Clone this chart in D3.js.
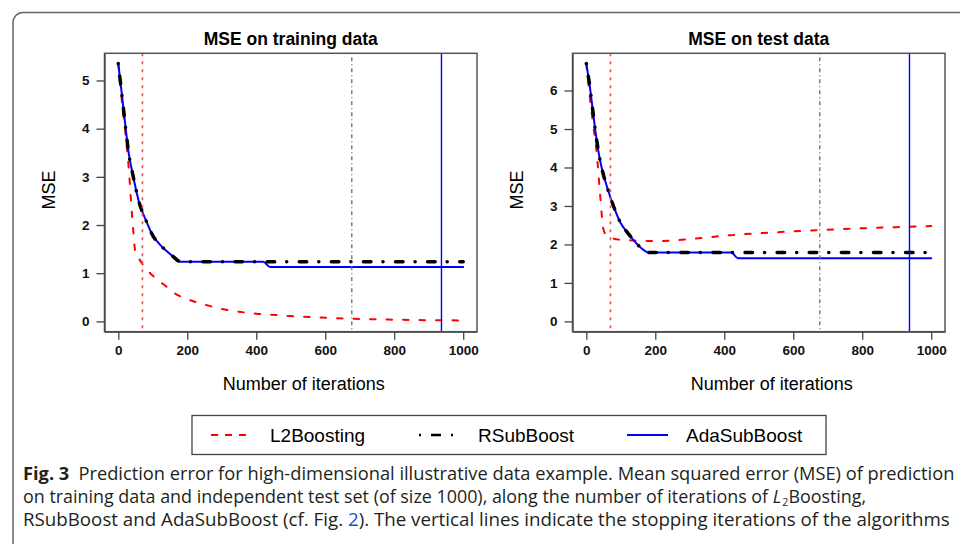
<!DOCTYPE html>
<html>
<head>
<meta charset="utf-8">
<script src="https://cdn.jsdelivr.net/npm/d3@7"></script>
<style>
  body { margin: 0; background: #fff; }
  svg text { font-family: "Liberation Sans", Arial, sans-serif; }
</style>
</head>
<body>
<div id="chart"></div>
<script>
// iteration grid shared by all curves
const iterations = [0, 10, 20, 30, 40, 50, 60, 70, 80, 100, 120, 140, 160, 180, 200,
    250, 300, 350, 400, 420, 440, 500, 600, 700, 800, 900, 1000];

// MSE on training data
const trainL2   = [5.35, 4.6, 3.95, 3.2, 2.2, 1.42, 1.3, 1.19, 1.1, 0.95, 0.83, 0.72, 0.6, 0.52, 0.46,
    0.35, 0.26, 0.2, 0.16, 0.15, 0.14, 0.11, 0.075, 0.05, 0.035, 0.025, 0.02];
const trainRSub = [5.35, 4.73, 4.1, 3.5, 3.12, 2.78, 2.48, 2.27, 2.1, 1.78, 1.6, 1.46, 1.34, 1.24, 1.24,
    1.24, 1.24, 1.24, 1.24, 1.24, 1.24, 1.24, 1.24, 1.24, 1.24, 1.24, 1.24];
const trainAda  = [5.35, 4.73, 4.1, 3.5, 3.12, 2.78, 2.48, 2.27, 2.1, 1.78, 1.6, 1.46, 1.34, 1.24, 1.24,
    1.24, 1.24, 1.24, 1.24, 1.24, 1.13, 1.13, 1.13, 1.13, 1.13, 1.13, 1.13];

// MSE on test data
const testL2   = [6.7, 5.85, 5.1, 4.4, 3.3, 2.38, 2.22, 2.18, 2.15, 2.12, 2.11, 2.1, 2.09, 2.09, 2.09,
    2.1, 2.14, 2.18, 2.23, 2.24, 2.26, 2.29, 2.34, 2.38, 2.42, 2.45, 2.48];
const testRSub = [6.7, 6.12, 5.4, 4.72, 4.18, 3.8, 3.5, 3.22, 2.97, 2.55, 2.3, 2.08, 1.9, 1.79, 1.79,
    1.79, 1.79, 1.79, 1.79, 1.79, 1.79, 1.79, 1.79, 1.79, 1.79, 1.79, 1.79];
const testAda  = [6.7, 6.12, 5.4, 4.72, 4.18, 3.8, 3.5, 3.22, 2.97, 2.55, 2.3, 2.08, 1.9, 1.79, 1.79,
    1.79, 1.79, 1.79, 1.79, 1.79, 1.64, 1.64, 1.64, 1.64, 1.64, 1.64, 1.64];

// stopping iterations (vertical lines)
const stopL2 = 70;
const stopRSub = 677;
const stopAda = 937;

const xTicks = [0, 200, 400, 600, 800, 1000];
const trainYTicks = [0, 1, 2, 3, 4, 5];
const testYTicks = [0, 1, 2, 3, 4, 5, 6];

const seriesNames = ["L2Boosting", "RSubBoost", "AdaSubBoost"];

const width = 960, height = 544;

const styles = {
    L2Boosting:  {color: "#ff0000", width: 2, dash: "5.5,11", cap: "round"},
    RSubBoost:   {color: "#000000", width: 3.5, dash: "0.1,12.5,7.5,12", cap: "round"},
    AdaSubBoost: {color: "#0000ff", width: 2, dash: null, cap: "round"}
};

const svg = d3.select("#chart").append("svg")
    .attr("width", width).attr("height", height)
    .attr("viewBox", [0, 0, width, height]);

// outer figure frame (rounded top-left corner)
svg.append("path")
    .attr("d", "M960,12.5 H23 A10,10 0 0 0 13,22.5 V544")
    .attr("fill", "none")
    .attr("stroke", "#666")
    .attr("stroke-width", 1.5);

function drawPanel(cfg) {
    const x = d3.scaleLinear().domain([-40, 1040]).range([cfg.left, cfg.right]);
    const y = d3.scaleLinear().domain(cfg.yDomain).range([331.7, 53.3]);
    const g = svg.append("g");

    const line = d3.line()
        .x((d, i) => x(iterations[i]))
        .y(d => y(d))
        .curve(d3.curveMonotoneX);

    // draw order: L2, Ada, RSub (thick black on top)
    [["L2Boosting", cfg.l2], ["AdaSubBoost", cfg.ada], ["RSubBoost", cfg.rsub]].forEach(([name, vals]) => {
        const s = styles[name];
        g.append("path")
            .datum(vals)
            .attr("d", line)
            .attr("fill", "none")
            .attr("stroke", s.color)
            .attr("stroke-width", s.width)
            .attr("stroke-linecap", s.cap)
            .attr("stroke-linejoin", "round")
            .attr("stroke-dasharray", s.dash);
    });

    // stopping iteration lines
    const vlines = [
        {it: stopL2, color: "#ff4a4a", w: 1.6, dash: "3,5"},
        {it: stopRSub, color: "#6b6b6b", w: 1.3, dash: "1,3,4,3"},
        {it: stopAda, color: "#0000ff", w: 1.4, dash: null}
    ];
    g.selectAll(".vline").data(vlines).join("line")
        .attr("x1", d => x(d.it)).attr("x2", d => x(d.it))
        .attr("y1", 53.3).attr("y2", 331.7)
        .attr("stroke", d => d.color)
        .attr("stroke-width", d => d.w)
        .attr("stroke-dasharray", d => d.dash);

    // plot box
    g.append("rect")
        .attr("x", cfg.left).attr("y", 53.3)
        .attr("width", cfg.right - cfg.left).attr("height", 331.7 - 53.3)
        .attr("fill", "none")
        .attr("stroke", "#555")
        .attr("stroke-width", 1.5);

    const fmt = d3.format("d");
    const xAxis = g.append("g")
        .attr("transform", "translate(0,331.7)")
        .call(d3.axisBottom(x).tickValues(xTicks).tickFormat(fmt)
            .tickSize(8).tickSizeOuter(0).tickPadding(6));
    const yAxis = g.append("g")
        .attr("transform", `translate(${cfg.left},0)`)
        .call(d3.axisLeft(y).tickValues(cfg.yTicks).tickFormat(fmt)
            .tickSize(8).tickSizeOuter(0).tickPadding(7));

    [xAxis, yAxis].forEach(a => {
        a.select(".domain").attr("stroke", "#444").attr("stroke-width", 1.3);
        a.selectAll(".tick line").attr("stroke", "#444").attr("stroke-width", 1.3);
        a.selectAll(".tick text")
            .attr("fill", "#111")
            .style("font-family", "'Liberation Sans', Arial, sans-serif")
            .style("font-size", "13.5px")
            .style("font-weight", "bold");
    });

    g.append("text")
        .attr("x", (cfg.left + cfg.right) / 2).attr("y", 44.5)
        .attr("text-anchor", "middle")
        .style("font-size", "17.5px").style("font-weight", "bold")
        .text(cfg.title);

    g.append("text")
        .attr("x", (cfg.left + cfg.right) / 2 + 13).attr("y", 389.5)
        .attr("text-anchor", "middle")
        .style("font-size", "18px")
        .text("Number of iterations");

    g.append("text")
        .attr("transform", `translate(${cfg.left - 50},190) rotate(-90)`)
        .attr("text-anchor", "middle")
        .style("font-size", "18px")
        .text("MSE");
}

drawPanel({
    title: "MSE on training data",
    left: 104.5, right: 477,
    yDomain: [-0.214, 5.564], yTicks: trainYTicks,
    l2: trainL2, rsub: trainRSub, ada: trainAda
});

drawPanel({
    title: "MSE on test data",
    left: 572.5, right: 945,
    yDomain: [-0.268, 6.968], yTicks: testYTicks,
    l2: testL2, rsub: testRSub, ada: testAda
});

// legend
const legend = svg.append("g");
legend.append("rect")
    .attr("x", 192).attr("y", 415.5).attr("width", 634).attr("height", 39)
    .attr("fill", "#fff").attr("stroke", "#444").attr("stroke-width", 1.3);

const legendItems = [
    {name: "L2Boosting", x0: 211, x1: 247, tx: 270, dash: "7,7", w: 1.8},
    {name: "RSubBoost", x0: 419, x1: 453, tx: 478, dash: "2,10,10,10,2", w: 2.5},
    {name: "AdaSubBoost", x0: 627, x1: 668, tx: 686, dash: null, w: 2}
];
legendItems.forEach(d => {
    legend.append("line")
        .attr("x1", d.x0).attr("x2", d.x1).attr("y1", 435).attr("y2", 435)
        .attr("stroke", styles[d.name].color)
        .attr("stroke-width", d.w)
        .attr("stroke-dasharray", d.dash);
    legend.append("text")
        .attr("x", d.tx).attr("y", 442)
        .style("font-size", "19px")
        .text(d.name);
});

// caption
const captionFont = "'Open Sans', 'Noto Sans', sans-serif";
const captionLines = [
    {y: 480, target: 932, parts: [
        {t: "Fig. 3", bold: true},
        {t: "\u2002Prediction error for high-dimensional illustrative data example. Mean squared error (MSE) of prediction"}
    ]},
    {y: 503, target: 843, parts: [
        {t: "on training data and independent test set (of size 1000), along the number of iterations of "},
        {t: "L", italic: true},
        {t: "2", sub: true},
        {t: "Boosting,", after: true}
    ]},
    {y: 526, target: 927, parts: [
        {t: "RSubBoost and AdaSubBoost (cf. Fig. "},
        {t: "2", color: "#1a4fd0"},
        {t: "). The vertical lines indicate the stopping iterations of the algorithms"}
    ]}
];
captionLines.forEach(l => {
    const gl = svg.append("g");
    const txt = gl.append("text")
        .attr("x", 0).attr("y", 0)
        .style("font-family", captionFont)
        .style("font-size", "18.5px")
        .attr("fill", "#231f20");
    l.parts.forEach(p => {
        const ts = txt.append("tspan").text(p.t);
        if (p.bold) ts.style("font-weight", "bold");
        if (p.italic) ts.style("font-style", "italic");
        if (p.color) ts.attr("fill", p.color);
        if (p.sub) ts.style("font-size", "11px").attr("dy", 3).attr("dx", 1);
        if (p.after) ts.attr("dy", -3);
    });
    const w = txt.node().getComputedTextLength();
    gl.attr("transform", `translate(23,${l.y}) scale(${l.target / w},1)`);
});
</script>
</body>
</html>
